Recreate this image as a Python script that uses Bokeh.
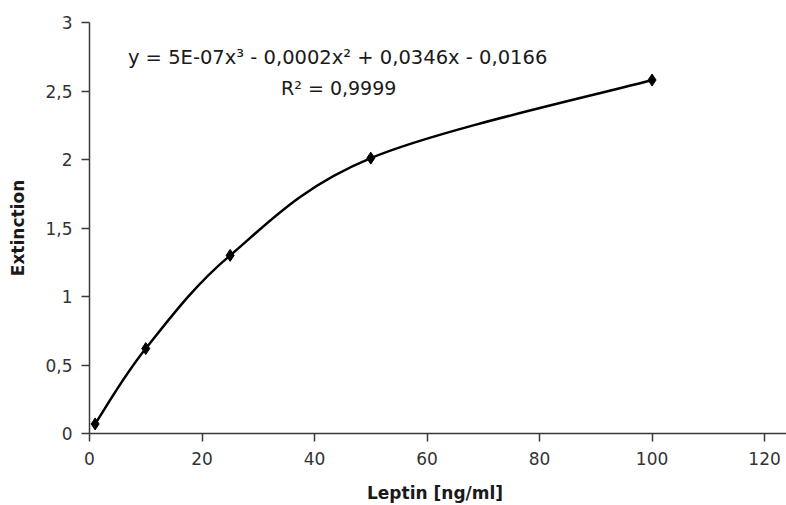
import numpy as np
from bokeh.plotting import figure
from bokeh.models import Range1d, FixedTicker, CustomJSTickFormatter, ColumnDataSource, Label
from bokeh.embed import file_html
from bokeh.resources import INLINE

# data
leptin = [1, 10, 25, 50, 100]
extinction = [0.07, 0.62, 1.30, 2.01, 2.58]
x_ticks = [0, 20, 40, 60, 80, 100, 120]
y_ticks = [0, 0.5, 1, 1.5, 2, 2.5, 3]
equation = "y = 5E-07x\u00b3 - 0,0002x\u00b2 + 0,0346x - 0,0166"
r_squared = "R\u00b2 = 0,9999"

FONT = "DejaVu Sans"

p = figure(width=786, height=505, output_backend="svg", toolbar_location=None,
           x_range=Range1d(0, 123.9), y_range=Range1d(0, 3),
           min_border_left=89, min_border_right=0, min_border_top=22, min_border_bottom=72)
p.outline_line_color = None
p.grid.visible = False
p.background_fill_color = "white"
p.border_fill_color = "white"

# smoothed line (Catmull-Rom style Bezier segments through the data points)
xs = np.array(leptin, dtype=float)
ys = np.array(extinction, dtype=float)
n = len(xs)
x0, y0, x1, y1, cx0, cy0, cx1, cy1 = [], [], [], [], [], [], [], []
for i in range(n - 1):
    pm = max(i - 1, 0)
    pn = min(i + 2, n - 1)
    x0.append(xs[i]); y0.append(ys[i]); x1.append(xs[i + 1]); y1.append(ys[i + 1])
    cx0.append(xs[i] + (xs[i + 1] - xs[pm]) / 6.0)
    cy0.append(ys[i] + (ys[i + 1] - ys[pm]) / 6.0)
    cx1.append(xs[i + 1] - (xs[pn] - xs[i]) / 6.0)
    cy1.append(ys[i + 1] - (ys[pn] - ys[i]) / 6.0)
p.bezier(x0=x0, y0=y0, x1=x1, y1=y1, cx0=cx0, cy0=cy0, cx1=cx1, cy1=cy1,
         line_color="black", line_width=2.5)

src = ColumnDataSource(dict(x=leptin, y=extinction))
p.scatter("x", "y", source=src, marker="diamond", size=12, fill_color="black", line_color="black")

fmt = CustomJSTickFormatter(code="return String(tick).replace('.', ',');")
for ax in (p.xaxis[0], p.yaxis[0]):
    ax.axis_line_color = "#3a3a3a"
    ax.axis_line_width = 1.5
    ax.major_tick_line_color = "#3a3a3a"
    ax.major_tick_line_width = 1.5
    ax.major_tick_in = 0
    ax.major_tick_out = 8
    ax.minor_tick_line_color = None
    ax.major_label_text_font = FONT
    ax.major_label_text_font_size = "17px"
    ax.major_label_text_color = "#333333"
    ax.axis_label_text_font = FONT
    ax.axis_label_text_font_style = "bold"
    ax.axis_label_text_font_size = "17px"
    ax.axis_label_text_color = "#1a1a1a"
    ax.formatter = fmt

p.xaxis.ticker = FixedTicker(ticks=x_ticks)
p.yaxis.ticker = FixedTicker(ticks=y_ticks)
p.xaxis.major_label_standoff = 10
p.yaxis.major_label_standoff = 9
p.xaxis.axis_label = "Leptin  [ng/ml]"
p.yaxis.axis_label = "Extinction"
p.xaxis.axis_label_standoff = 15
p.yaxis.axis_label_standoff = 14

p.add_layout(Label(x=44.1, y=2.745, text=equation, text_align="center", text_baseline="middle",
                   text_font=FONT, text_font_size="19.5px", text_color="#1a1a1a"))
p.add_layout(Label(x=44.3, y=2.52, text=r_squared, text_align="center", text_baseline="middle",
                   text_font=FONT, text_font_size="19px", text_color="#1a1a1a"))

open("out.html", "w").write(file_html(p, INLINE))
